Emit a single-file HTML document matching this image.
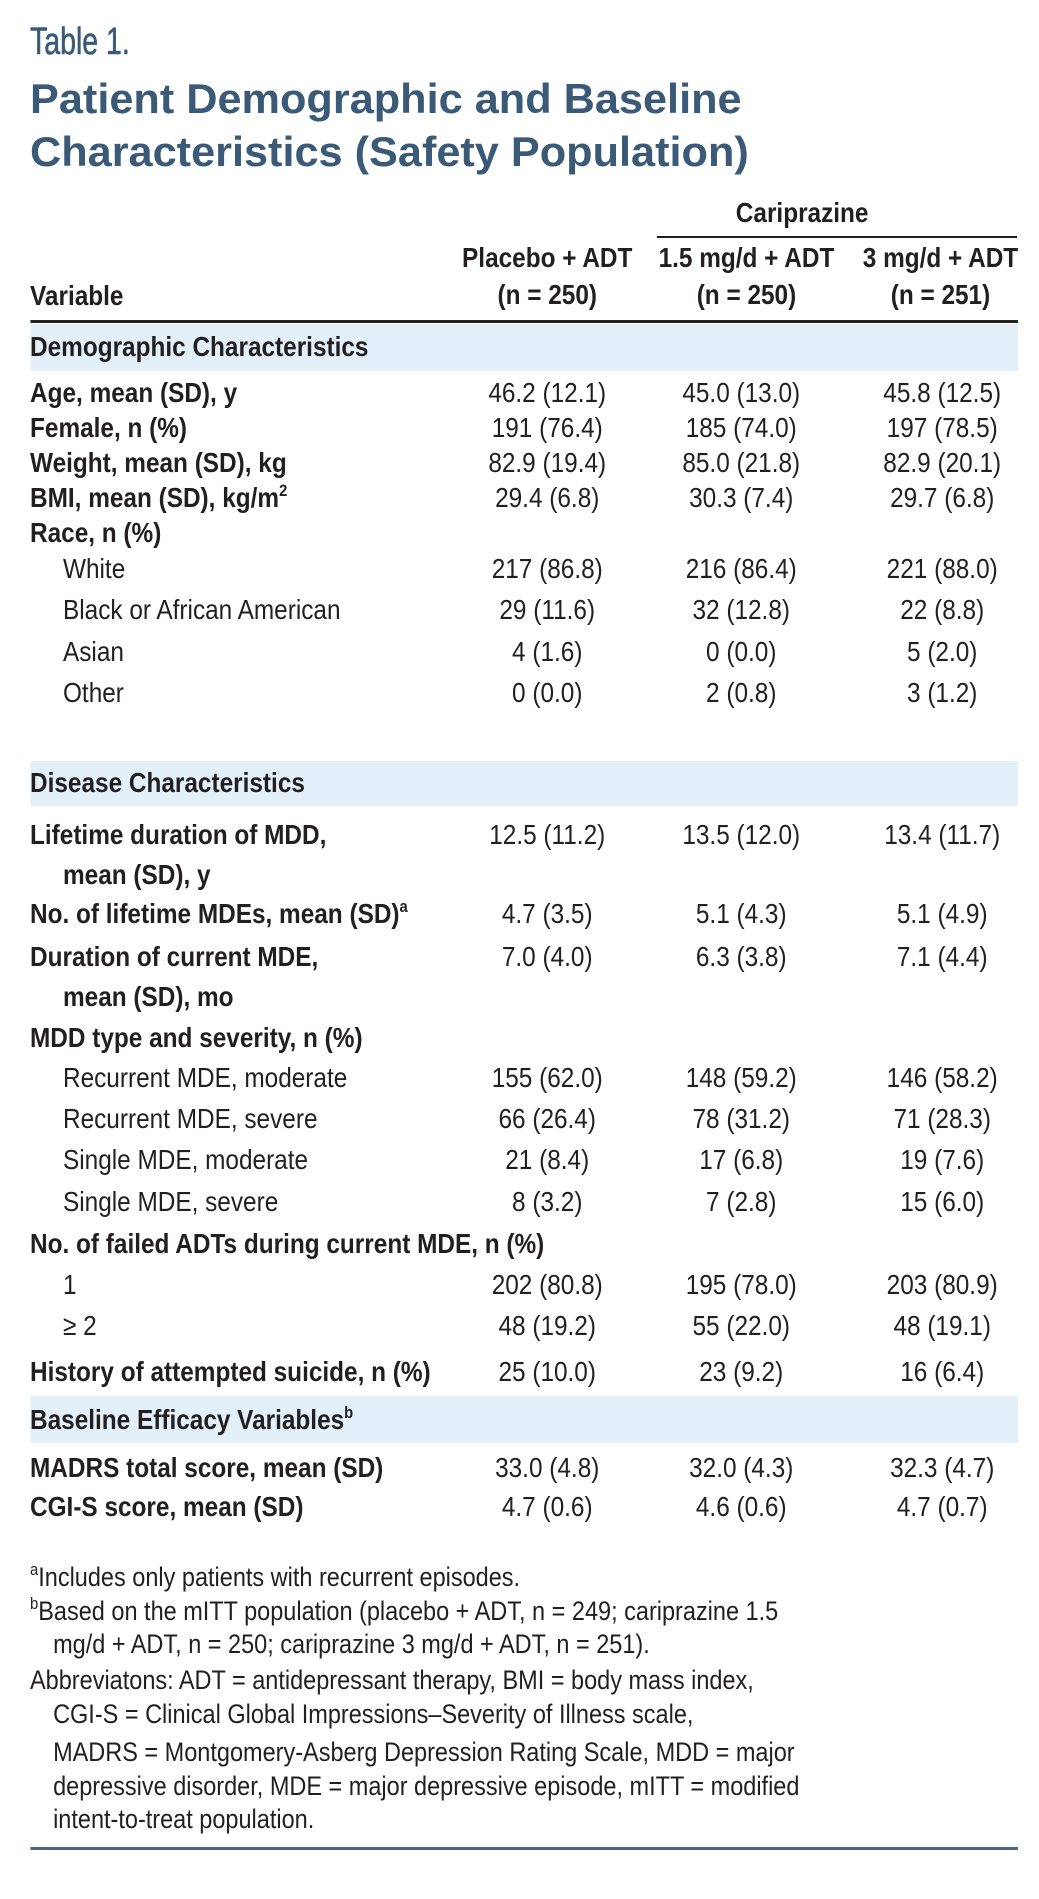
<!DOCTYPE html>
<html><head><meta charset="utf-8"><style>
html,body{margin:0;padding:0;background:#fff;}
body{width:1039px;height:1899px;position:relative;overflow:hidden;font-family:"Liberation Sans",sans-serif;color:#231f20;}
.wrap{position:absolute;left:0;top:0;width:1194px;height:1899px;transform:scaleX(0.87);transform-origin:0 0;}
.t{position:absolute;height:40px;line-height:40px;font-size:28px;white-space:nowrap;}
.b{font-weight:bold;}
.c{text-align:center;width:260px;}
.band{position:absolute;left:34.5px;width:1135px;background:#e3f0fa;}
.rule{position:absolute;background:#231f20;}
sup{font-size:17px;line-height:0;vertical-align:11px;}
.fn{font-size:27px;}
</style></head><body>
<div style="position:absolute;left:30px;top:22px;font-size:38px;line-height:40px;color:#3a5a78;transform:scaleX(0.75);transform-origin:0 0;white-space:nowrap;-webkit-text-stroke:0.6px #3a5a78;">Table 1.</div>
<div style="position:absolute;left:30px;top:72px;font-size:42px;line-height:53px;font-weight:bold;color:#3a5a78;white-space:nowrap;transform:scaleX(1.03);transform-origin:0 0;">Patient Demographic and Baseline<br>Characteristics (Safety Population)</div>
<div class="wrap">
<div class="t b c" style="left:722px;top:193px;width:400px;">Cariprazine</div>
<div class="rule" style="left:755px;top:236px;width:414px;height:2px;"></div>
<div class="t b" style="left:34.5px;top:276px;">Variable</div>
<div class="t b c" style="left:499px;top:239px;line-height:37px;height:80px;">Placebo + ADT<br>(n = 250)</div>
<div class="t b c" style="left:728px;top:239px;line-height:37px;height:80px;">1.5 mg/d + ADT<br>(n = 250)</div>
<div class="t b c" style="left:951px;top:239px;line-height:37px;height:80px;">3 mg/d + ADT<br>(n = 251)</div>
<div class="rule" style="left:34.5px;top:320px;width:1135px;height:3px;"></div>

<div class="band" style="top:324px;height:47px;"></div>
<div class="t b" style="left:34.5px;top:327px;">Demographic Characteristics</div>
<div class="band" style="top:761px;height:45px;"></div>
<div class="t b" style="left:34.5px;top:763px;">Disease Characteristics</div>
<div class="band" style="top:1396px;height:47px;"></div>
<div class="t b" style="left:34.5px;top:1400px;">Baseline Efficacy Variables<sup>b</sup></div>

<div id="rows"></div>

<div class="t fn" style="left:34.5px;top:1557px;"><sup>a</sup>Includes only patients with recurrent episodes.</div>
<div class="t fn" style="left:34.5px;top:1591px;"><sup>b</sup>Based on the mITT population (placebo + ADT, n = 249; cariprazine 1.5</div>
<div class="t fn" style="left:61px;top:1624px;">mg/d + ADT, n = 250; cariprazine 3 mg/d + ADT, n = 251).</div>
<div class="t fn" style="left:34.5px;top:1660px;">Abbreviatons: ADT = antidepressant therapy, BMI = body mass index,</div>
<div class="t fn" style="left:61px;top:1694px;">CGI-S = Clinical Global Impressions–Severity of Illness scale,</div>
<div class="t fn" style="left:61px;top:1732px;">MADRS = Montgomery-Asberg Depression Rating Scale, MDD = major</div>
<div class="t fn" style="left:61px;top:1766px;">depressive disorder, MDE = major depressive episode, mITT = modified</div>
<div class="t fn" style="left:61px;top:1799px;">intent-to-treat population.</div>
<div class="rule" style="left:34.5px;top:1847px;width:1135px;height:3px;background:#4a6785;"></div>
</div>
<script>
const rowLabels=[
["Age, mean (SD), y",1,0,393,"46.2 (12.1)","45.0 (13.0)","45.8 (12.5)"],
["Female, n (%)",1,0,428,"191 (76.4)","185 (74.0)","197 (78.5)"],
["Weight, mean (SD), kg",1,0,463,"82.9 (19.4)","85.0 (21.8)","82.9 (20.1)"],
["BMI, mean (SD), kg/m<sup>2</sup>",1,0,498,"29.4 (6.8)","30.3 (7.4)","29.7 (6.8)"],
["Race, n (%)",1,0,533,"","",""],
["White",0,1,569,"217 (86.8)","216 (86.4)","221 (88.0)"],
["Black or African American",0,1,610,"29 (11.6)","32 (12.8)","22 (8.8)"],
["Asian",0,1,652,"4 (1.6)","0 (0.0)","5 (2.0)"],
["Other",0,1,693,"0 (0.0)","2 (0.8)","3 (1.2)"],
["Lifetime duration of MDD,",1,0,835,"12.5 (11.2)","13.5 (12.0)","13.4 (11.7)"],
["mean (SD), y",1,1,875,"","",""],
["No. of lifetime MDEs, mean (SD)<sup>a</sup>",1,0,914,"4.7 (3.5)","5.1 (4.3)","5.1 (4.9)"],
["Duration of current MDE,",1,0,957,"7.0 (4.0)","6.3 (3.8)","7.1 (4.4)"],
["mean (SD), mo",1,1,997,"","",""],
["MDD type and severity, n (%)",1,0,1038,"","",""],
["Recurrent MDE, moderate",0,1,1078,"155 (62.0)","148 (59.2)","146 (58.2)"],
["Recurrent MDE, severe",0,1,1119,"66 (26.4)","78 (31.2)","71 (28.3)"],
["Single MDE, moderate",0,1,1160,"21 (8.4)","17 (6.8)","19 (7.6)"],
["Single MDE, severe",0,1,1202,"8 (3.2)","7 (2.8)","15 (6.0)"],
["No. of failed ADTs during current MDE, n (%)",1,0,1244,"","",""],
["1",0,1,1285,"202 (80.8)","195 (78.0)","203 (80.9)"],
["≥ 2",0,1,1326,"48 (19.2)","55 (22.0)","48 (19.1)"],
["History of attempted suicide, n (%)",1,0,1372,"25 (10.0)","23 (9.2)","16 (6.4)"],
["MADRS total score, mean (SD)",1,0,1468,"33.0 (4.8)","32.0 (4.3)","32.3 (4.7)"],
["CGI-S score, mean (SD)",1,0,1507,"4.7 (0.6)","4.6 (0.6)","4.7 (0.7)"]
];
const colLeft=[499,722,953];
const host=document.getElementById('rows');
rowLabels.forEach(r=>{
  const d=document.createElement('div');
  d.className='t'+(r[1]?' b':'');
  d.style.left=(r[2]?72.4:34.5)+'px';
  d.style.top=(r[3]-20)+'px';
  d.innerHTML=r[0];
  
  
  host.appendChild(d);
  for(let i=0;i<3;i++){
    if(!r[4+i])continue;
    const v=document.createElement('div');
    v.className='t c';
    v.style.left=colLeft[i]+'px';
    v.style.top=(r[3]-20)+'px';
    v.textContent=r[4+i];
    
    
    host.appendChild(v);
  }
});
</script>
</body></html>
